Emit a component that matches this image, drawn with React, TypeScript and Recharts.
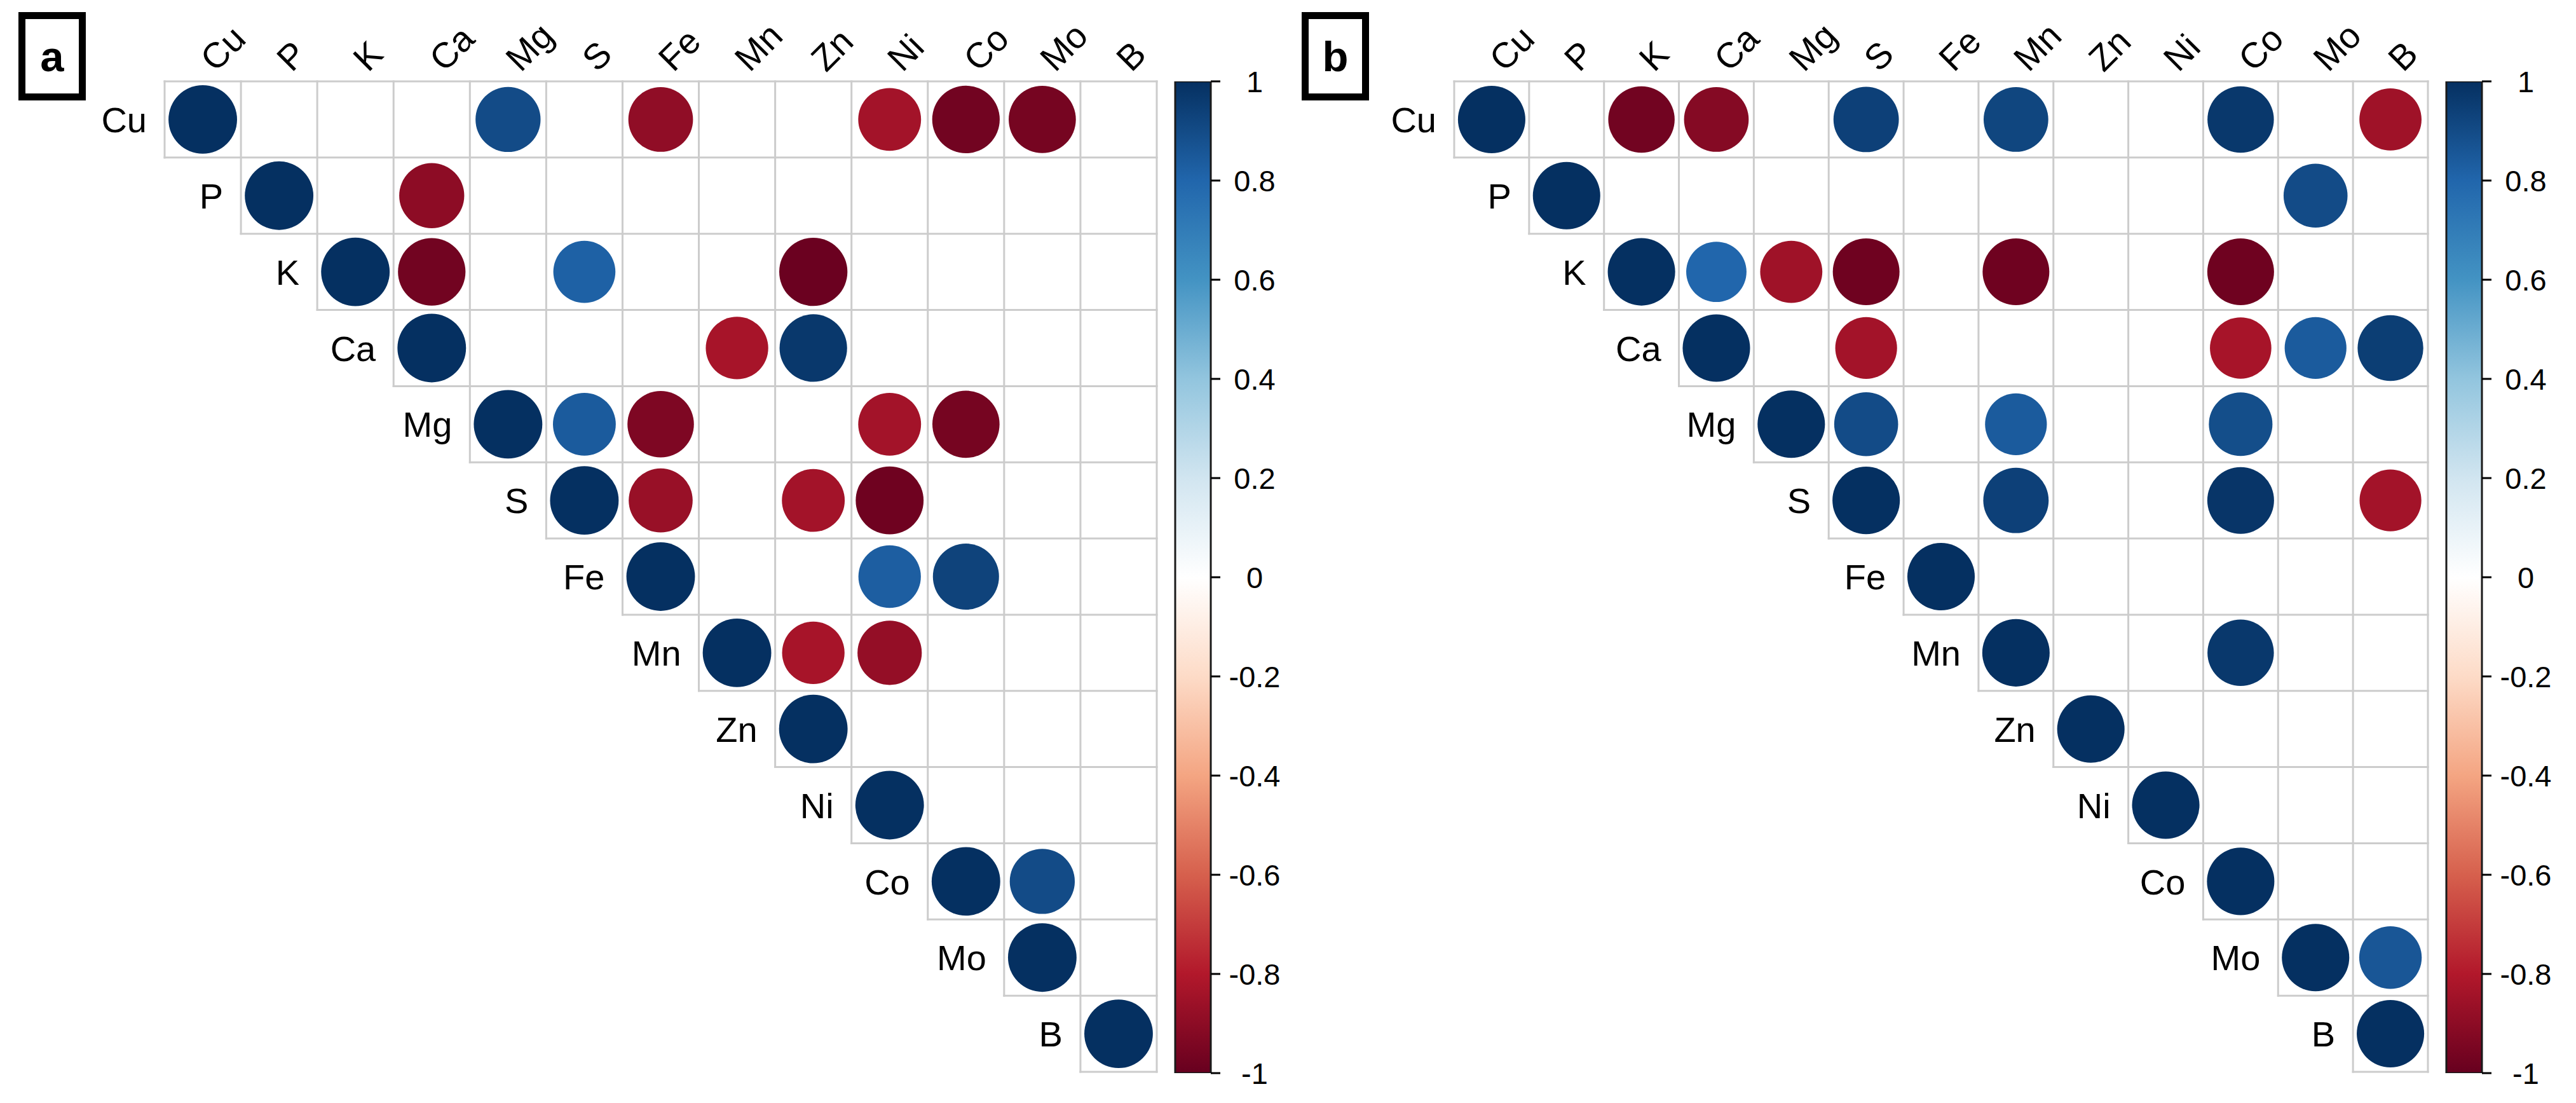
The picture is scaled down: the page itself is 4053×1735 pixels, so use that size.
import React from 'react';
import { ScatterChart, Scatter, XAxis, YAxis, ReferenceLine, BarChart, Bar } from 'recharts';

// ---------- data ----------
const VARS = ['Cu', 'P', 'K', 'Ca', 'Mg', 'S', 'Fe', 'Mn', 'Zn', 'Ni', 'Co', 'Mo', 'B'];
const COLORBAR_TICKS = [-1, -0.8, -0.6, -0.4, -0.2, 0, 0.2, 0.4, 0.6, 0.8, 1];
const RDBU = ['#67001F', '#B2182B', '#D6604D', '#F4A582', '#FDDBC7', '#FFFFFF', '#D1E5F0', '#92C5DE', '#4393C3', '#2166AC', '#053061'];
const PANEL_LABELS = ['a', 'b'];

// significant correlations [row, column, r] – panel a
const CORR_A: [string, string, number][] = [
  ['Cu', 'Cu', 1], ['Cu', 'Mg', 0.9], ['Cu', 'Fe', -0.89], ['Cu', 'Ni', -0.84], ['Cu', 'Co', -0.97], ['Cu', 'Mo', -0.96],
  ['P', 'P', 1], ['P', 'Ca', -0.9],
  ['K', 'K', 1], ['K', 'Ca', -0.97], ['K', 'S', 0.82], ['K', 'Zn', -0.99],
  ['Ca', 'Ca', 1], ['Ca', 'Mn', -0.83], ['Ca', 'Zn', 0.97],
  ['Mg', 'Mg', 1], ['Mg', 'S', 0.84], ['Mg', 'Fe', -0.94], ['Mg', 'Ni', -0.84], ['Mg', 'Co', -0.96],
  ['S', 'S', 1], ['S', 'Fe', -0.87], ['S', 'Zn', -0.84], ['S', 'Ni', -0.98],
  ['Fe', 'Fe', 1], ['Fe', 'Ni', 0.83], ['Fe', 'Co', 0.93],
  ['Mn', 'Mn', 1], ['Mn', 'Zn', -0.83], ['Mn', 'Ni', -0.88],
  ['Zn', 'Zn', 1], ['Ni', 'Ni', 1],
  ['Co', 'Co', 1], ['Co', 'Mo', 0.9],
  ['Mo', 'Mo', 1], ['B', 'B', 1],
];

// panel b
const CORR_B: [string, string, number][] = [
  ['Cu', 'Cu', 1], ['Cu', 'K', -0.97], ['Cu', 'Ca', -0.92], ['Cu', 'S', 0.94], ['Cu', 'Mn', 0.92], ['Cu', 'Co', 0.97], ['Cu', 'B', -0.85],
  ['P', 'P', 1], ['P', 'Mo', 0.9],
  ['K', 'K', 1], ['K', 'Ca', 0.8], ['K', 'Mg', -0.85], ['K', 'S', -0.98], ['K', 'Mn', -0.98], ['K', 'Co', -0.98],
  ['Ca', 'Ca', 1], ['Ca', 'S', -0.84], ['Ca', 'Co', -0.83], ['Ca', 'Mo', 0.84], ['Ca', 'B', 0.95],
  ['Mg', 'Mg', 1], ['Mg', 'S', 0.9], ['Mg', 'Mn', 0.84], ['Mg', 'Co', 0.89],
  ['S', 'S', 1], ['S', 'Mn', 0.94], ['S', 'Co', 0.98], ['S', 'B', -0.84],
  ['Fe', 'Fe', 1],
  ['Mn', 'Mn', 1], ['Mn', 'Co', 0.97],
  ['Zn', 'Zn', 1], ['Ni', 'Ni', 1], ['Co', 'Co', 1],
  ['Mo', 'Mo', 1], ['Mo', 'B', 0.86],
  ['B', 'B', 1],
];

const COLORBAR = [{ k: 'corr', range: [COLORBAR_TICKS[0], COLORBAR_TICKS[COLORBAR_TICKS.length - 1]] }];

// ---------- helpers ----------
const FONT = '"Liberation Sans", Arial, Helvetica, sans-serif';
const W = 4053;
const H = 1735;
const TOP = 128;
const BOTTOM = 49;
const N = VARS.length;
const AX = 20; // room given to the invisible axes

function hexToRgb(h: string) {
  const n = parseInt(h.slice(1), 16);
  return [(n >> 16) & 255, (n >> 8) & 255, n & 255];
}
function colorFor(r: number) {
  const t = ((r + 1) / 2) * (RDBU.length - 1);
  const i = Math.max(0, Math.min(RDBU.length - 2, Math.floor(t)));
  const f = t - i;
  const a = hexToRgb(RDBU[i]);
  const b = hexToRgb(RDBU[i + 1]);
  const c = a.map((v, k) => Math.round(v + (b[k] - v) * f));
  return `rgb(${c[0]},${c[1]},${c[2]})`;
}

function CorrPanel({ left, gridLeft, gridW, data }: { left: number; gridLeft: number; gridW: number; data: [string, string, number][] }) {
  const width = gridLeft + gridW + 10;
  const plotH = H - TOP - BOTTOM;
  const cellW = gridW / N;
  const cellH = plotH / N;
  const rad = 0.45 * Math.min(cellW, cellH);
  const points = data.map(([a, b, v]) => ({ x: VARS.indexOf(b), y: VARS.indexOf(a), v }));
  const idx = VARS.map((_, i) => i);
  const bounds = Array.from({ length: N + 1 }, (_, k) => k);

  return (
    <div style={{ position: 'absolute', left, top: 0, width, height: H }}>
      <ScatterChart width={width} height={H} margin={{ top: TOP - AX, right: 10, bottom: BOTTOM, left: gridLeft - AX }}>
        <XAxis
          type="number"
          dataKey="x"
          domain={[-0.5, N - 0.5]}
          allowDataOverflow
          orientation="top"
          height={AX}
          ticks={idx}
          interval={0}
          axisLine={false}
          tickLine={false}
          tickSize={0}
          tickMargin={0}
          tick={(p: any) => {
            const x = p.x + 20;
            const y = TOP - 13;
            return (
              <text x={x} y={y} transform={`rotate(-45 ${x} ${y})`} fontSize={56} fontFamily={FONT} fill="#000" textAnchor="start">
                {VARS[p.payload.value]}
              </text>
            );
          }}
        />
        <YAxis
          type="number"
          dataKey="y"
          domain={[-0.5, N - 0.5]}
          allowDataOverflow
          reversed
          width={AX}
          ticks={idx}
          interval={0}
          axisLine={false}
          tickLine={false}
          tickSize={0}
          tickMargin={0}
          tick={(p: any) => (
            <text x={gridLeft + p.payload.value * cellW - 28} y={p.y} dy="0.36em" textAnchor="end" fontSize={56} fontFamily={FONT} fill="#000">
              {VARS[p.payload.value]}
            </text>
          )}
        />
        {bounds.map((k) => (
          <ReferenceLine
            key={'v' + k}
            segment={[{ x: k - 0.5, y: -0.5 }, { x: k - 0.5, y: Math.min(k, N - 1) + 0.5 }]}
            stroke="#cccccc"
            strokeWidth={3}
            strokeLinecap="square"
            ifOverflow="visible"
          />
        ))}
        {bounds.map((j) => (
          <ReferenceLine
            key={'h' + j}
            segment={[{ x: Math.max(j - 1, 0) - 0.5, y: j - 0.5 }, { x: N - 0.5, y: j - 0.5 }]}
            stroke="#cccccc"
            strokeWidth={3}
            strokeLinecap="square"
            ifOverflow="visible"
          />
        ))}
        <Scatter
          data={points}
          isAnimationActive={false}
          shape={(p: any) => (
            <circle cx={p.cx} cy={p.cy} r={rad * Math.sqrt(Math.abs(p.payload.v))} fill={colorFor(p.payload.v)} />
          )}
        />
      </ScatterChart>
    </div>
  );
}

function ColorBar({ left, id }: { left: number; id: string }) {
  const width = 233;
  const mL = 29;
  const barW = 56;
  const stops = RDBU.slice().reverse();
  return (
    <div style={{ position: 'absolute', left, top: 0, width, height: H }}>
      <BarChart
        width={width}
        height={H}
        data={COLORBAR}
        margin={{ top: TOP, bottom: 47, left: mL, right: width - mL - barW - AX }}
        barCategoryGap={0}
        barGap={0}
      >
        <defs>
          <linearGradient id={id} x1="0" y1="0" x2="0" y2="1">
            {stops.map((c, i) => (
              <stop key={i} offset={`${(i / (stops.length - 1)) * 100}%`} stopColor={c} />
            ))}
          </linearGradient>
        </defs>
        <XAxis dataKey="k" hide />
        <YAxis
          type="number"
          domain={[-1, 1]}
          allowDataOverflow
          ticks={COLORBAR_TICKS}
          interval={0}
          orientation="right"
          width={AX}
          axisLine={false}
          tickSize={15}
          tickMargin={0}
          tickLine={{ stroke: '#000', strokeWidth: 3 }}
          tick={(p: any) => (
            <text x={p.x + 54} y={p.y} dy="0.36em" textAnchor="middle" fontSize={47} fontFamily={FONT} fill="#000">
              {String(p.payload.value)}
            </text>
          )}
        />
        <Bar dataKey="range" fill={`url(#${id})`} stroke="#1a1a1a" strokeWidth={3} isAnimationActive={false} />
      </BarChart>
    </div>
  );
}

function PanelLabel({ left, text }: { left: number; text: string }) {
  return (
    <svg style={{ position: 'absolute', left, top: 19 }} width={106} height={139}>
      <rect x={5.5} y={5.5} width={95} height={128} fill="#fff" stroke="#000" strokeWidth={11} />
      <text x={53} y={93} textAnchor="middle" fontSize={67} fontWeight="bold" fontFamily={FONT} fill="#000">
        {text}
      </text>
    </svg>
  );
}

export default function App() {
  return (
    <div style={{ position: 'absolute', left: 0, top: 0, width: W, height: H, background: '#fff', overflow: 'hidden', fontFamily: FONT }}>
      <CorrPanel left={0} gridLeft={259} gridW={1561} data={CORR_A} />
      <ColorBar left={1820} id="cbA" />
      <CorrPanel left={2000} gridLeft={288} gridW={1532} data={CORR_B} />
      <ColorBar left={3820} id="cbB" />
      <PanelLabel left={29} text={PANEL_LABELS[0]} />
      <PanelLabel left={2048} text={PANEL_LABELS[1]} />
    </div>
  );
}
